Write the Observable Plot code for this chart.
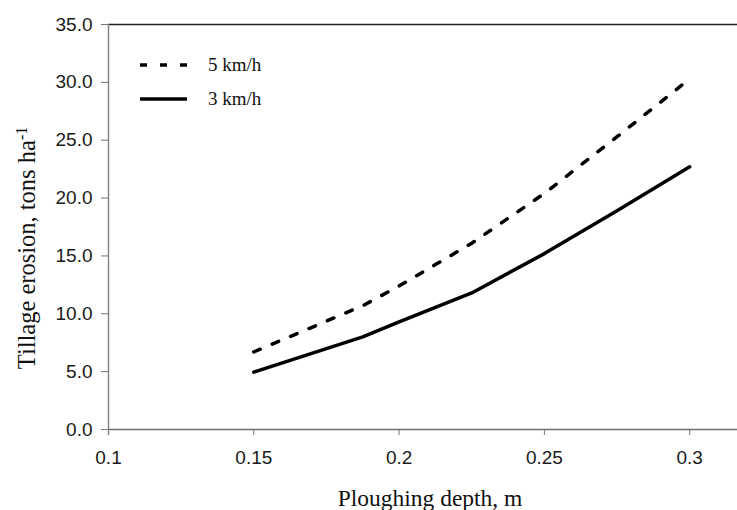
<!DOCTYPE html>
<html>
<head>
<meta charset="utf-8">
<script src="https://cdn.jsdelivr.net/npm/d3@7"></script>
<script src="https://cdn.jsdelivr.net/npm/@observablehq/plot@0.6"></script>
<style>
  html, body { margin: 0; padding: 0; background: #fff; }
  #wrap { position: relative; width: 737px; height: 510px; overflow: hidden; }
  #legend { position: absolute; left: 140px; top: 48px; font-family: "Liberation Serif", "Times New Roman", serif; font-size: 19px; color: #111; }
  #legend .row { display: flex; align-items: center; height: 34px; }
  #legend svg { width: 47px; height: 8px; margin-right: 21px; }
</style>
</head>
<body>
<div id="wrap"><div id="legend"></div></div>
<script>
// Data
const depth = [0.15, 0.1875, 0.2, 0.225, 0.25, 0.275, 0.3];
const erosion5 = [6.7, 10.7, 12.4, 16.1, 20.4, 25.3, 30.3];
const erosion3 = [4.96, 8.0, 9.3, 11.8, 15.2, 18.9, 22.7];
const seriesNames = ["5 km/h", "3 km/h"];
const xTicks = [0.1, 0.15, 0.2, 0.25, 0.3];
const yTicks = [0, 5, 10, 15, 20, 25, 30, 35];
const xTitle = "Ploughing depth, m";
const yTitle = "Tillage erosion, tons ha";
const yTitleSup = "-1";

const rows5 = depth.map((d, i) => ({depth: d, value: erosion5[i]}));
const rows3 = depth.map((d, i) => ({depth: d, value: erosion3[i]}));

const dash = "7,13";

const chart = Plot.plot({
  width: 737,
  height: 510,
  marginLeft: 108,
  marginRight: 0,
  marginTop: 24,
  marginBottom: 81,
  style: {fontFamily: "Liberation Sans, Arial, sans-serif", background: "white"},
  x: {domain: [0.1, 0.31645], label: null},
  y: {domain: [0, 35], label: null},
  marks: [
    Plot.ruleY([35], {stroke: "#222", strokeWidth: 1.3}),
    Plot.axisY({ticks: yTicks, tickFormat: d3.format(".1f"), tickSize: 7, tickPadding: 9,
      fontSize: 19, stroke: "#777", fill: "#1a1a1a", label: null}),
    Plot.axisX({ticks: xTicks, tickFormat: d => String(d), tickSize: 6, tickPadding: 15,
      fontSize: 19, stroke: "#777", fill: "#1a1a1a", label: null}),
    Plot.ruleY([0], {stroke: "#707070", strokeWidth: 1.4}),
    Plot.ruleX([0.1], {stroke: "#808080", strokeWidth: 1.4, y1: -0.5, y2: 35}),
    Plot.line(rows5, {x: "depth", y: "value", stroke: "#000", strokeWidth: 3.5, strokeDasharray: dash}),
    Plot.line(rows3, {x: "depth", y: "value", stroke: "#000", strokeWidth: 3.5})
  ]
});

document.getElementById("wrap").prepend(chart);

const svg = d3.select(chart);
// x axis title
svg.append("text")
  .attr("x", 430).attr("y", 506)
  .attr("text-anchor", "middle")
  .style("font-family", "Liberation Serif, Times New Roman, serif")
  .style("font-size", "23.5px")
  .attr("fill", "#111")
  .text(xTitle);
// y axis title with superscript
const yt = svg.append("text")
  .attr("transform", "translate(34.5,248) rotate(-90)")
  .attr("text-anchor", "middle")
  .style("font-family", "Liberation Serif, Times New Roman, serif")
  .style("font-size", "24.5px")
  .attr("fill", "#111");
yt.append("tspan").text(yTitle);
yt.append("tspan").attr("dy", "-0.45em").style("font-size", "16px").text(yTitleSup);

// legend
const legend = d3.select("#legend");
seriesNames.forEach((name, i) => {
  const row = legend.append("div").attr("class", "row");
  const s = row.append("svg");
  s.append("line").attr("x1", 0).attr("x2", 47).attr("y1", 4).attr("y2", 4)
    .attr("stroke", "#000").attr("stroke-width", 3.5)
    .attr("stroke-dasharray", i === 0 ? dash : null);
  row.append("span").text(name);
});
</script>
</body>
</html>
